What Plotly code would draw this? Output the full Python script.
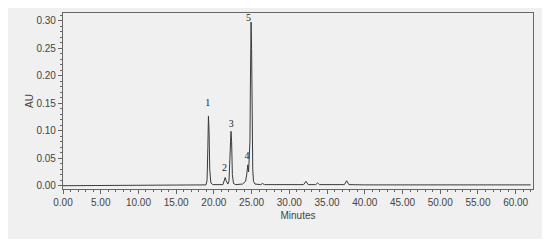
import plotly.graph_objects as go

# chromatogram trace (minutes, AU)
minutes = [0, 1.4, 1.6, 14.8, 15.0, 18.95, 19.1, 19.2, 19.28, 19.36, 19.45, 19.6, 19.85,
           21.2, 21.4, 21.5, 21.6, 21.75, 21.85, 22.0, 22.15, 22.27, 22.35, 22.45, 22.6, 22.9,
           23.8, 24.2, 24.35, 24.5, 24.6, 24.7, 24.78, 24.85, 24.93, 25.0, 25.08,
           25.15, 25.25, 25.45, 26.2, 26.45, 26.7, 29.0, 29.2, 29.35, 29.5, 29.7,
           31.9, 32.2, 32.5, 33.5, 33.75, 34.0, 34.6, 34.85, 35.1, 37.3, 37.6, 37.9,
           40.0, 44.8, 45.0, 48.5, 48.7, 62.0]
au = [0.0, 0.0, 0.0005, 0.0005, 0.0012, 0.0015, 0.01, 0.07, 0.127, 0.1, 0.03, 0.005, 0.002,
      0.002, 0.01, 0.015, 0.01, 0.004, 0.003, 0.008, 0.06, 0.099, 0.08, 0.02, 0.004, 0.002,
      0.003, 0.008, 0.02, 0.038, 0.025, 0.05, 0.08, 0.2, 0.298, 0.25, 0.1,
      0.03, 0.008, 0.003, 0.002, 0.004, 0.002, 0.002, 0.003, 0.002, 0.003, 0.002,
      0.002, 0.008, 0.002, 0.002, 0.005, 0.002, 0.002, 0.003, 0.002, 0.002, 0.009, 0.002,
      0.0015, 0.0015, 0.002, 0.002, 0.0015, 0.0015]

# peak numbers
peak_labels = ["1", "2", "3", "4", "5"]
peak_x = [19.2, 21.4, 22.3, 24.4, 24.6]
peak_y = [0.150, 0.031, 0.111, 0.054, 0.305]

fig = go.Figure()
fig.add_trace(go.Scatter(x=minutes, y=au, mode="lines",
                         line=dict(color="#3a3a3a", width=1), hoverinfo="skip"))
fig.add_trace(go.Scatter(x=peak_x, y=peak_y, mode="text", text=peak_labels,
                         textfont=dict(family="Liberation Serif", size=10, color="#222")))

axis_font = dict(family="Liberation Sans", size=10, color="#444")
fig.update_xaxes(range=[0, 62.3], tickmode="linear", tick0=0, dtick=5, tickformat=".2f",
                 ticks="outside", ticklen=4, tickcolor="#666",
                 minor=dict(dtick=1, ticks="outside", ticklen=2, tickcolor="#666"),
                 showgrid=False, zeroline=False, showline=True, mirror=True, automargin=False,
                 linecolor="#666", linewidth=1.2, tickfont=axis_font,
                 title=dict(text="Minutes", font=axis_font, standoff=4))
fig.update_yaxes(range=[-0.006, 0.3145], tickmode="linear", tick0=0, dtick=0.05, tickformat=".2f",
                 ticks="outside", ticklen=4, tickcolor="#666",
                 minor=dict(dtick=0.01, ticks="outside", ticklen=2, tickcolor="#666"),
                 showgrid=False, zeroline=False, showline=True, mirror=True, automargin=False,
                 linecolor="#666", linewidth=1.2, tickfont=axis_font,
                 title=dict(text="AU", font=axis_font, standoff=0))

# page body margin puts the figure at (8, 8); grey panel is the figure itself
fig.update_layout(width=535, height=231, margin=dict(l=55, r=10, t=5, b=50),
                  paper_bgcolor="#f0f0f0", plot_bgcolor="#f0f0f0", showlegend=False)
fig.write_html("out.html")
